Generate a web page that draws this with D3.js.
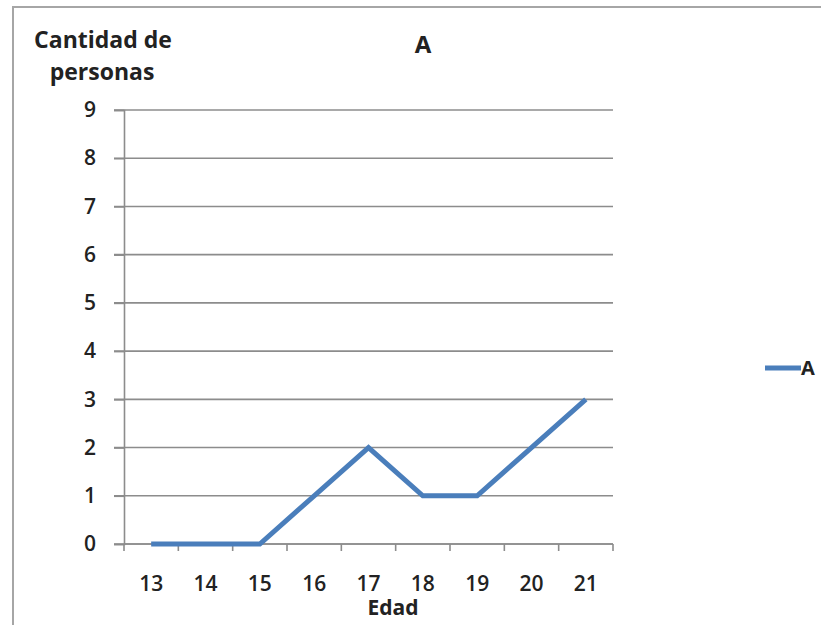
<!DOCTYPE html>
<html>
<head>
<meta charset="utf-8">
<script src="https://cdn.jsdelivr.net/npm/d3@7"></script>
<style>
  html, body { margin: 0; padding: 0; background: #fff; }
  svg { display: block; }
  text { font-family: "Open Sans", "Noto Sans", sans-serif; fill: #222; }
</style>
</head>
<body>
<svg id="chart" width="821" height="625"></svg>
<script>
// Ages on the horizontal axis and number of people per age
const edades = ["13", "14", "15", "16", "17", "18", "19", "20", "21"];
const cantidades = [0, 0, 0, 1, 2, 1, 1, 2, 3];
const yTicks = [0, 1, 2, 3, 4, 5, 6, 7, 8, 9];
const serieNombre = "A";

const svg = d3.select("#chart");
const margin = { left: 124, right: 208, top: 110, bottom: 81 };
const W = 821, H = 625;

// Outer chart frame
svg.append("rect")
  .attr("x", 13).attr("y", 7)
  .attr("width", 840).attr("height", 640)
  .attr("fill", "none").attr("stroke", "#a6a6a6").attr("stroke-width", 2);

const x = d3.scaleBand()
  .domain(edades)
  .range([margin.left, W - margin.right])
  .paddingInner(0).paddingOuter(0);

const y = d3.scaleLinear()
  .domain([0, 9])
  .range([H - margin.bottom, margin.top]);

// Horizontal gridlines
svg.append("g")
  .selectAll("line")
  .data(yTicks)
  .join("line")
  .attr("x1", margin.left - 10)
  .attr("x2", W - margin.right)
  .attr("y1", d => y(d)).attr("y2", d => y(d))
  .attr("stroke", "#8c8c8c").attr("stroke-width", 1.6);

// Y axis
const yAxis = svg.append("g")
  .attr("transform", `translate(${margin.left},0)`)
  .call(d3.axisLeft(y).tickValues(yTicks).tickSize(10).tickPadding(18).tickFormat(d3.format("d")));
yAxis.select(".domain").attr("stroke", "#8c8c8c").attr("stroke-width", 1.6);
yAxis.selectAll(".tick line").attr("stroke", "#8c8c8c").attr("stroke-width", 1.6);
yAxis.selectAll(".tick text")
  .attr("font-size", 21).attr("font-weight", 600)
  .style("font-family", "'Open Sans', sans-serif").attr("fill", "#333");

// X axis: ticks sit between categories
const xAxisG = svg.append("g")
  .attr("transform", `translate(0,${y(0)})`);
xAxisG.append("line")
  .attr("x1", margin.left).attr("x2", W - margin.right)
  .attr("stroke", "#8c8c8c").attr("stroke-width", 1.6);
const boundaries = edades.map(e => x(e)).concat([x(edades[edades.length - 1]) + x.bandwidth()]);
xAxisG.selectAll("line.tk")
  .data(boundaries)
  .join("line").attr("class", "tk")
  .attr("x1", d => d).attr("x2", d => d)
  .attr("y1", 0).attr("y2", 7)
  .attr("stroke", "#8c8c8c").attr("stroke-width", 1.6);
xAxisG.selectAll("text")
  .data(edades)
  .join("text")
  .attr("x", d => x(d) + x.bandwidth() / 2)
  .attr("y", 47)
  .attr("text-anchor", "middle")
  .attr("font-size", 21).attr("font-weight", 600)
  .attr("fill", "#333")
  .text(d => d);

// Data line
const line = d3.line()
  .x((d, i) => x(edades[i]) + x.bandwidth() / 2)
  .y(d => y(d));
svg.append("path")
  .datum(cantidades)
  .attr("d", line)
  .attr("fill", "none")
  .attr("stroke", "#4a7ebb")
  .attr("stroke-width", 5)
  .attr("stroke-linejoin", "miter");

// Titles
svg.append("text")
  .attr("x", 423).attr("y", 53)
  .attr("text-anchor", "middle")
  .attr("font-size", 24).attr("font-weight", 700)
  .text("A");

const yTitle = svg.append("text")
  .attr("text-anchor", "middle")
  .attr("font-size", 23).attr("font-weight", 700);
yTitle.append("tspan").attr("x", 103).attr("y", 48).text("Cantidad de");
yTitle.append("tspan").attr("x", 102).attr("y", 80).text("personas");

svg.append("text")
  .attr("x", 393).attr("y", 615)
  .attr("text-anchor", "middle")
  .attr("font-size", 21).attr("font-weight", 700)
  .text("Edad");

// Legend
const lg = svg.append("g").attr("transform", "translate(765,368)");
lg.append("line")
  .attr("x1", 0).attr("x2", 36).attr("y1", 0).attr("y2", 0)
  .attr("stroke", "#4a7ebb").attr("stroke-width", 5);
lg.append("text")
  .attr("x", 36).attr("y", 7)
  .attr("font-size", 20).attr("font-weight", 700)
  .text(serieNombre);
</script>
</body>
</html>
